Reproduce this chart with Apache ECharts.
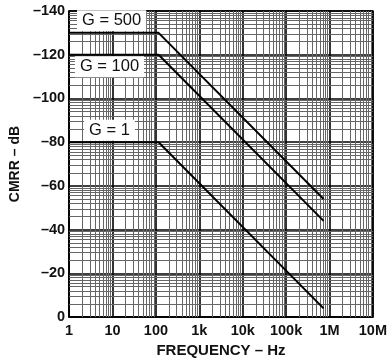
<!DOCTYPE html>
<html>
<head>
<meta charset="utf-8">
<script src="https://cdn.jsdelivr.net/npm/echarts@6/dist/echarts.min.js"></script>
<style>
html,body{margin:0;padding:0;background:#fff;}
#c{width:390px;height:363px;}
</style>
</head>
<body>
<div id="c"></div>
<script>
// ---- data ----
const freqs = [1, 115, 730000];
const g500 = [-130, -130, -54];
const g100 = [-120, -120, -44];
const g1 = [-80, -80, -4];
const gainNames = ['G = 500', 'G = 100', 'G = 1'];
const labelFreq = [9.5, 8.5, 8.5];
const labelDb = [-135.5, -114.5, -85.5];
const xTickLabels = ['1', '10', '100', '1k', '10k', '100k', '1M', '10M'];
const yTicks = [0, -20, -40, -60, -80, -100, -120, -140];

// minor grid values
const minorX = [];
for (let n = 0; n < 7; n++) for (let k = 2; k <= 9; k++) minorX.push(k * Math.pow(10, n));
const minorY = [];
for (let i = 0; i < yTicks.length - 1; i++) {
  for (let k = 2; k <= 9; k++) minorY.push(yTicks[i] - 20 * Math.log10(k));
}

const font = 'Liberation Sans, Arial, sans-serif';
function pairs(xs, ys) { return xs.map((x, i) => [x, ys[i]]); }
function mkSeries(name, ys, idx) {
  return {
    name: name, type: 'line', data: pairs(freqs, ys), symbol: 'none', z: 5,
    lineStyle: { color: '#000', width: 2 }, animation: false,
    markPoint: {
      symbol: 'rect', symbolSize: 0, silent: true, animation: false,
      label: {
        show: true, position: 'inside', formatter: name, color: '#111',
        fontFamily: font, fontSize: 16.5, backgroundColor: '#fff', padding: [2, 5]
      },
      data: [{ coord: [labelFreq[idx], labelDb[idx]] }]
    }
  };
}

const chart = echarts.init(document.getElementById('c'), null, { renderer: 'canvas' });
chart.setOption({
  animation: false,
  backgroundColor: '#fff',
  grid: { left: 69, right: 12, top: 11, bottom: 45, show: true, borderColor: '#000', borderWidth: 1.5 },
  xAxis: {
    type: 'log', logBase: 10, min: 1, max: 1e7,
    name: 'FREQUENCY – Hz', nameLocation: 'middle', nameGap: 24,
    nameTextStyle: { fontFamily: font, fontWeight: 'bold', fontSize: 15, color: '#111' },
    axisLine: { show: true, lineStyle: { color: '#000', width: 1.5 } },
    axisTick: { show: false },
    axisLabel: {
      margin: 6, fontFamily: font, fontWeight: 'bold', fontSize: 14.5, color: '#111',
      formatter: v => xTickLabels[Math.round(Math.log10(v))]
    },
    splitLine: { show: true, lineStyle: { color: '#000', width: 1.6 } }
  },
  yAxis: {
    type: 'value', min: -140, max: 0, interval: 20, inverse: true,
    name: 'CMRR – dB', nameLocation: 'middle', nameGap: 43,
    nameTextStyle: { fontFamily: font, fontWeight: 'bold', fontSize: 14, color: '#111' },
    axisLine: { show: true, lineStyle: { color: '#000', width: 1.5 } },
    axisTick: { show: false },
    axisLabel: {
      margin: 4, fontFamily: font, fontWeight: 'bold', fontSize: 14.5, color: '#111',
      formatter: v => (v < 0 ? '–' + (-v) : String(v))
    },
    splitLine: { show: true, lineStyle: { color: '#000', width: 1.6 } }
  },
  series: [
    {
      type: 'line', data: [], z: 1, silent: true,
      markLine: {
        silent: true, symbol: 'none', animation: false,
        label: { show: false },
        lineStyle: { color: '#666', width: 1, type: 'solid' },
        data: minorX.map(v => ({ xAxis: v })).concat(minorY.map(v => ({ yAxis: v })))
      }
    },
    mkSeries(gainNames[0], g500, 0),
    mkSeries(gainNames[1], g100, 1),
    mkSeries(gainNames[2], g1, 2)
  ]
});
</script>
</body>
</html>
